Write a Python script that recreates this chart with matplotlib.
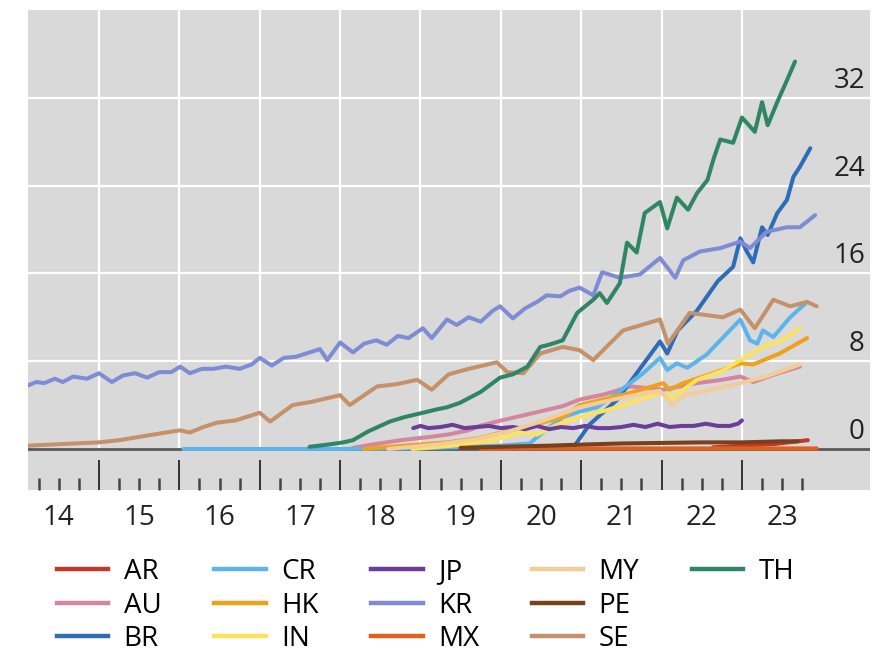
import matplotlib
matplotlib.use("Agg")
import matplotlib.pyplot as plt
import matplotlib.transforms as mtransforms
from matplotlib.lines import Line2D
import numpy as np

plt.rcParams['font.family'] = ['Open Sans', 'DejaVu Sans']

# series: decimal year / value
ar_t = [2022.64, 2023.0, 2023.4, 2023.82]
ar_v = [0.15, 0.3, 0.45, 0.8]

au_t = [2018.16, 2018.4, 2018.75, 2019.12, 2019.33, 2019.6, 2019.74, 2019.95, 2020.36, 2020.77,
        2020.98, 2021.3, 2021.61, 2022.02, 2022.44, 2022.75, 2022.98, 2023.14, 2023.45, 2023.72]
au_v = [0.1, 0.4, 0.8, 1.1, 1.3, 1.7, 2.1, 2.5, 3.2, 3.9,
        4.5, 5.0, 5.7, 5.4, 6.0, 6.3, 6.6, 6.1, 6.9, 7.5]

br_t = [2020.9, 2021.1, 2021.45, 2021.75, 2021.98, 2022.07, 2022.2, 2022.44, 2022.7, 2022.89,
        2022.98, 2023.06, 2023.14, 2023.25, 2023.32, 2023.44, 2023.56, 2023.64, 2023.72, 2023.85]
br_v = [0.1, 2.2, 4.5, 7.5, 9.8, 8.7, 10.8, 12.6, 15.3, 16.6,
        19.2, 18.0, 17.0, 20.2, 19.5, 21.5, 22.7, 24.8, 25.7, 27.4]

cr_t = [2016.05, 2017.0, 2018.0, 2019.0, 2019.6, 2019.99, 2020.36, 2020.57, 2020.77, 2020.98,
        2021.2, 2021.45, 2021.77, 2021.98, 2022.07, 2022.19, 2022.32, 2022.56, 2022.98, 2023.1,
        2023.19, 2023.26, 2023.39, 2023.6, 2023.81]
cr_v = [0.0, 0.0, 0.0, 0.05, 0.2, 0.3, 0.5, 1.8, 2.9, 3.4,
        3.8, 5.1, 6.9, 8.3, 7.2, 7.8, 7.4, 8.6, 11.8, 9.9,
        9.6, 10.8, 10.2, 12.0, 13.4]

hk_t = [2018.3, 2018.8, 2019.33, 2019.74, 2019.95, 2020.36, 2020.77, 2020.98, 2021.61, 2022.02,
        2022.1, 2022.27, 2022.64, 2022.98, 2023.14, 2023.47, 2023.81]
hk_v = [0.0, 0.3, 0.6, 1.0, 1.4, 2.1, 2.9, 4.0, 5.1, 6.0,
        5.4, 6.0, 6.9, 7.8, 7.7, 8.7, 10.1]

in_t = [2018.9, 2019.4, 2019.9, 2020.28, 2020.45, 2020.7, 2020.98, 2021.3, 2021.61, 2021.98,
        2022.14, 2022.44, 2022.75, 2022.98, 2023.26, 2023.5, 2023.72]
in_v = [0.0, 0.3, 0.8, 1.5, 1.3, 2.2, 2.9, 3.5, 4.2, 5.1,
        4.7, 6.3, 7.1, 8.1, 9.3, 9.9, 11.0]

jp_t = [2018.91, 2019.0, 2019.1, 2019.25, 2019.4, 2019.55, 2019.7, 2019.85, 2020.0, 2020.15,
        2020.3, 2020.45, 2020.6, 2020.75, 2020.9, 2021.05, 2021.2, 2021.35, 2021.5, 2021.65,
        2021.8, 2021.95, 2022.1, 2022.25, 2022.4, 2022.55, 2022.7, 2022.85, 2022.95, 2023.0]
jp_v = [1.9, 2.1, 1.9, 2.0, 2.2, 1.9, 2.0, 2.1, 1.9, 2.0,
        1.8, 2.1, 1.8, 2.0, 1.9, 2.1, 1.9, 1.9, 2.0, 2.2,
        2.0, 2.3, 2.0, 2.1, 2.1, 2.3, 2.1, 2.1, 2.3, 2.6]

kr_t = [2014.12, 2014.22, 2014.32, 2014.45, 2014.55, 2014.68, 2014.85, 2015.0, 2015.16, 2015.3,
        2015.45, 2015.6, 2015.75, 2015.9, 2016.01, 2016.13, 2016.28, 2016.42, 2016.58, 2016.75,
        2016.9, 2017.0, 2017.15, 2017.3, 2017.45, 2017.62, 2017.75, 2017.84, 2018.0, 2018.16,
        2018.3, 2018.45, 2018.58, 2018.72, 2018.85, 2019.03, 2019.14, 2019.33, 2019.45, 2019.6,
        2019.75, 2019.9, 2019.99, 2020.15, 2020.3, 2020.45, 2020.57, 2020.74, 2020.85, 2020.98,
        2021.15, 2021.26, 2021.48, 2021.73, 2021.98, 2022.17, 2022.27, 2022.48, 2022.73, 2022.98,
        2023.1, 2023.31, 2023.56, 2023.72, 2023.91]
kr_v = [5.8, 6.1, 6.0, 6.4, 6.1, 6.6, 6.4, 6.9, 6.1, 6.7,
        6.9, 6.5, 7.0, 7.0, 7.5, 6.9, 7.3, 7.3, 7.5, 7.3,
        7.7, 8.3, 7.6, 8.3, 8.4, 8.8, 9.1, 8.1, 9.7, 8.8,
        9.6, 9.9, 9.5, 10.3, 10.1, 11.0, 10.1, 11.8, 11.3, 12.0,
        11.6, 12.6, 13.0, 11.9, 12.8, 13.4, 14.0, 13.9, 14.4, 14.7,
        14.0, 16.1, 15.6, 15.9, 17.4, 15.6, 17.2, 18.0, 18.3, 18.9,
        18.3, 19.8, 20.2, 20.2, 21.3]

mx_t = [2019.75, 2020.5, 2021.0, 2021.5, 2022.0, 2022.5, 2023.0, 2023.5, 2023.93]
mx_v = [0.0, 0.05, 0.05, 0.05, 0.05, 0.05, 0.05, 0.05, 0.05]

my_t = [2018.6, 2019.2, 2019.7, 2020.1, 2020.5, 2020.98, 2021.4, 2021.8, 2021.98, 2022.14,
        2022.3, 2022.44, 2022.75, 2022.98, 2023.3, 2023.72]
my_v = [0.0, 0.4, 0.9, 1.6, 2.5, 3.8, 4.5, 5.1, 5.3, 4.0,
        5.0, 5.1, 5.6, 6.0, 6.6, 7.7]

pe_t = [2019.5, 2020.0, 2020.6, 2021.0, 2021.5, 2022.0, 2022.5, 2023.0, 2023.5, 2023.7]
pe_v = [0.1, 0.2, 0.3, 0.4, 0.5, 0.55, 0.6, 0.6, 0.7, 0.7]

se_t = [2014.12, 2014.4, 2014.7, 2015.0, 2015.25, 2015.5, 2015.75, 2016.01, 2016.13, 2016.3,
        2016.47, 2016.7, 2017.0, 2017.13, 2017.41, 2017.65, 2018.0, 2018.12, 2018.46, 2018.7,
        2018.96, 2019.14, 2019.35, 2019.6, 2019.95, 2020.08, 2020.28, 2020.49, 2020.77, 2020.98,
        2021.15, 2021.52, 2021.98, 2022.08, 2022.35, 2022.76, 2022.98, 2023.16, 2023.39, 2023.6,
        2023.81, 2023.93]
se_v = [0.3, 0.4, 0.5, 0.6, 0.8, 1.1, 1.4, 1.7, 1.5, 2.0,
        2.4, 2.6, 3.3, 2.5, 4.0, 4.3, 4.9, 4.0, 5.7, 5.9,
        6.3, 5.4, 6.8, 7.3, 7.9, 7.0, 6.9, 8.7, 9.3, 9.0,
        8.1, 10.8, 11.8, 9.6, 12.4, 12.0, 12.7, 11.0, 13.6, 13.0,
        13.4, 13.0]

th_t = [2017.62, 2017.85, 2018.04, 2018.16, 2018.35, 2018.62, 2018.8, 2019.03, 2019.2, 2019.33,
        2019.49, 2019.75, 2019.99, 2020.15, 2020.33, 2020.49, 2020.6, 2020.77, 2020.95, 2021.15,
        2021.23, 2021.32, 2021.48, 2021.57, 2021.69, 2021.79, 2021.98, 2022.07, 2022.19, 2022.33,
        2022.44, 2022.57, 2022.65, 2022.73, 2022.89, 2023.0, 2023.16, 2023.25, 2023.32, 2023.45,
        2023.56, 2023.66]
th_v = [0.2, 0.4, 0.6, 0.8, 1.6, 2.5, 2.9, 3.3, 3.6, 3.8,
        4.2, 5.2, 6.5, 6.8, 7.5, 9.3, 9.5, 9.9, 12.4, 13.6,
        14.2, 13.3, 15.1, 18.8, 17.9, 21.5, 22.5, 20.1, 22.9, 21.8,
        23.3, 24.5, 26.5, 28.2, 27.9, 30.2, 28.9, 31.6, 29.5, 31.8,
        33.6, 35.3]

names = ['AR', 'AU', 'BR', 'CR', 'HK', 'IN', 'JP', 'KR', 'MX', 'MY', 'PE', 'SE', 'TH']
colors = ['#c0392b', '#d4879c', '#2f6cb8', '#5db4ea', '#f0a11c', '#fde35b', '#6a3d9a',
          '#7f8cd4', '#e0601c', '#f2cd97', '#7a3f1d', '#c4916a', '#2f8566']
times = [ar_t, au_t, br_t, cr_t, hk_t, in_t, jp_t, kr_t, mx_t, my_t, pe_t, se_t, th_t]
values = [ar_v, au_v, br_v, cr_v, hk_v, in_v, jp_v, kr_v, mx_v, my_v, pe_v, se_v, th_v]

year_starts = list(range(2015, 2024))
year_labels = ['14', '15', '16', '17', '18', '19', '20', '21', '22', '23']
y_ticks = [0, 8, 16, 24, 32]

fig = plt.figure(figsize=(8.84, 6.54), dpi=100)
ax = fig.add_axes([28 / 884, 1 - 490 / 654, 842 / 884, 480 / 654])
ax.set_facecolor('#d9d9d9')
ax.set_xlim(2014.117, 2024.593)
ax.set_ylim(-3.74, 40)
for s in ax.spines.values():
    s.set_visible(False)

# white grid
for v in y_ticks[1:]:
    ax.axhline(v, color='white', lw=1.6, zorder=0.5)
ax.vlines(year_starts, 0, 40, color='white', lw=1.6, zorder=0.5)
ax.axhline(0, color='#5a5a5a', lw=2.0, zorder=0.8)

for t, v, c, n in zip(times, values, colors, names):
    ax.plot(t, v, color=c, lw=2.9, label=n, zorder=2,
            solid_joinstyle='round', solid_capstyle='round')

# ticks inside from the bottom
ax.set_yticks([])
ax.set_xticks(year_starts)
quarters = [y + q for y in range(2014, 2024) for q in (0.25, 0.5, 0.75)]
ax.set_xticks(quarters, minor=True)
ax.tick_params(axis='x', which='major', direction='in', length=21.5, width=1.4,
               color='#333333', labelbottom=False)
ax.tick_params(axis='x', which='minor', direction='in', length=9, width=1.8,
               color='#444444', labelbottom=False)

sec = ax.secondary_xaxis('bottom')
sec.set_xticks([y + 0.5 for y in range(2014, 2024)], labels=year_labels)
sec.tick_params(length=0, pad=10, labelsize=20, colors='#222222')
sec.spines['bottom'].set_visible(False)

# value labels inside the plot on the right
trans = mtransforms.blended_transform_factory(ax.transAxes, ax.transData)
for v in y_ticks:
    ax.text(0.994, v + 0.9, str(v), transform=trans, ha='right', va='baseline',
            fontsize=20, color='#222222')

handles = [Line2D([], [], color=c, lw=3.2) for c in colors]
labels = list(names)
handles += [Line2D([], [], color='none'), Line2D([], [], color='none')]
labels += ['', '']
fig.legend(handles, labels, loc='upper left', bbox_to_anchor=(57 / 884, 1 - 558 / 654),
           ncol=5, frameon=False, fontsize=20, handlelength=1.85, handletextpad=0.55,
           columnspacing=1.9, labelspacing=0.2, borderpad=0, borderaxespad=0)

fig.savefig('out.png', dpi=100)
